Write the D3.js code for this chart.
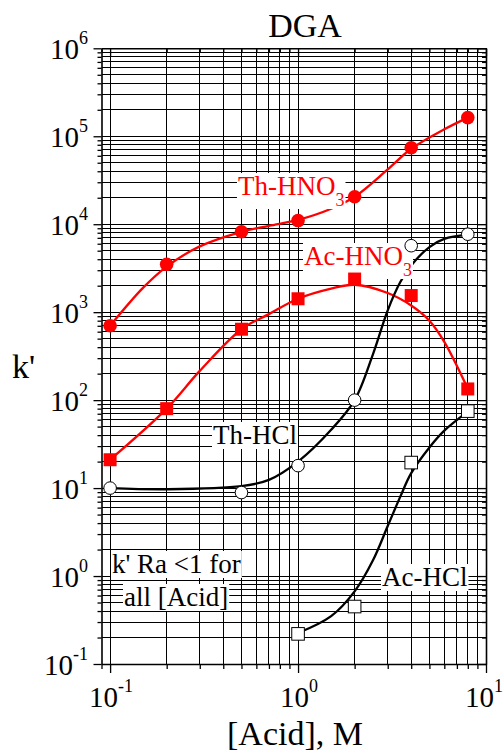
<!DOCTYPE html>
<html><head><meta charset="utf-8">
<script src="https://cdn.jsdelivr.net/npm/d3@7"></script>
<style>body{margin:0;background:#fff}svg{display:block}</style>
</head><body><svg id="c" width="504" height="754" font-family="'Liberation Serif', 'Times New Roman', Times, 'DejaVu Serif', serif"></svg>
<script>
// ---- data ----
const xAcid = [0.1, 0.2, 0.5, 1, 2, 4, 8];
const thHNO3 = [700, 3500, 8200, 11000, 20500, 74000, 163000];
const acHNO3 = [21, 80, 640, 1420, 2380, 1545, 134];
const xThHCl = [0.1, 0.5, 1, 2, 4, 8];
const thHCl = [10, 8.9, 18, 100, 5700, 7700];
const xAcHCl = [1, 2, 4, 8];
const acHCl = [0.22, 0.45, 19.5, 75];
// fitted curves
const thHNO3FitX = [0.1, 0.15, 0.2, 0.3, 0.5, 0.7, 1, 1.5, 2, 3, 4, 6, 8];
const thHNO3FitY = [700, 1900, 3300, 5600, 8200, 9600, 11200, 15000, 20500, 42000, 72000, 120000, 163000];
const acHNO3FitX = [0.1, 0.2, 0.3, 0.5, 0.7, 1, 1.5, 2, 3, 4, 5, 6, 8];
const acHNO3FitY = [21, 80, 215, 640, 950, 1420, 1850, 2050, 1650, 1190, 800, 460, 135];
const thHClFitX = [0.1, 0.2, 0.5, 0.7, 1, 1.5, 2, 2.5, 3, 3.5, 4, 5, 6, 8];
const thHClFitY = [10, 9.7, 10.5, 12.4, 20, 46, 100, 330, 1050, 2200, 3400, 5500, 6800, 7600];
const acHClFitX = [1, 1.5, 2, 2.5, 3, 3.5, 4, 5, 6, 8];
const acHClFitY = [0.225, 0.35, 0.67, 1.5, 3.7, 8, 14.8, 29, 45, 74];
const xTicks = [0.1, 1, 10];
const xTickExp = ["-1", "0", "1"];
const yTicks = [0.1, 1, 10, 100, 1000, 10000, 100000, 1000000];
const yTickExp = ["-1", "0", "1", "2", "3", "4", "5", "6"];

const svg = d3.select("#c");
const x = d3.scaleLog().domain([0.09, 10]).range([101.5, 486]);
const y = d3.scaleLog().domain([0.1, 1e6]).range([664, 48.3]);
const RED = "#ff0000";

// minor values
const xMinor = [];
[0.1, 1].forEach(d => { for (let i = 1; i <= 9; i++) xMinor.push(d * i); });
xMinor.push(10);
const yMinor = [];
for (let e = -1; e < 6; e++) { for (let i = 1; i <= 9; i++) yMinor.push(Math.pow(10, e) * i); }
yMinor.push(1e6);

const g = svg.append("g");
// grid
g.selectAll(".vg").data(xMinor).join("line")
  .attr("x1", d => x(d)).attr("x2", d => x(d)).attr("y1", y(0.1)).attr("y2", y(1e6))
  .attr("stroke", "#000").attr("stroke-width", 1).attr("shape-rendering", "crispEdges");
g.selectAll(".hg").data(yMinor).join("line")
  .attr("y1", d => y(d)).attr("y2", d => y(d)).attr("x1", x(0.09)).attr("x2", x(10))
  .attr("stroke", "#000").attr("stroke-width", 1).attr("shape-rendering", "crispEdges");

// axes ticks
const isMajor = v => Math.abs(Math.log10(v) - Math.round(Math.log10(v))) < 1e-9;
const yAxL = d3.axisLeft(y).tickValues(yMinor).tickFormat("").tickSizeOuter(0);
const gl = svg.append("g").attr("transform", `translate(${x(0.09)},0)`).call(yAxL);
gl.selectAll(".tick line").attr("x2", d => isMajor(d) ? -8 : -4).attr("stroke-width", 1.3);
gl.select(".domain").attr("stroke-width", 1.6);
const yAxR = d3.axisRight(y).tickValues(yMinor).tickFormat("").tickSizeOuter(0);
const gr = svg.append("g").attr("transform", `translate(${x(10)},0)`).call(yAxR);
gr.selectAll(".tick line").attr("x2", d => isMajor(d) ? -8 : -4).attr("stroke-width", 1.3);
gr.select(".domain").attr("stroke-width", 1.6);
const xVals = [0.09].concat(xMinor);
const xAxB = d3.axisBottom(x).tickValues(xVals).tickFormat("").tickSizeOuter(0);
const gb = svg.append("g").attr("transform", `translate(0,${y(0.1)})`).call(xAxB);
gb.selectAll(".tick line").attr("y2", d => isMajor(d) ? 9 : 5).attr("stroke-width", 1.3);
gb.select(".domain").attr("stroke-width", 1.6);
const xAxT = d3.axisTop(x).tickValues(xVals).tickFormat("").tickSizeOuter(0);
const gt = svg.append("g").attr("transform", `translate(0,${y(1e6)})`).call(xAxT);
gt.selectAll(".tick line").attr("y2", d => isMajor(d) ? 8 : 4).attr("stroke-width", 1.3);
gt.select(".domain").attr("stroke-width", 1.6);
svg.selectAll(".tick text").remove();

// tick labels
yTicks.forEach((v, i) => {
  const t = svg.append("text").attr("x", 88).attr("y", y(v) + 11)
    .attr("text-anchor", "end").attr("font-size", 29);
  t.append("tspan").text("10");
  t.append("tspan").attr("dy", -15).attr("font-size", 18).text(yTickExp[i]);
});
xTicks.forEach((v, i) => {
  const t = svg.append("text").attr("x", i === 2 ? x(v) - 2 : x(v) + 1).attr("y", 707)
    .attr("text-anchor", "middle").attr("font-size", 29);
  t.append("tspan").text("10");
  t.append("tspan").attr("dy", -15).attr("font-size", 18).text(xTickExp[i]);
});

// titles
svg.append("text").attr("x", 305).attr("y", 37).attr("text-anchor", "middle").attr("font-size", 34).text("DGA");
svg.append("text").attr("x", 12).attr("y", 378).attr("font-size", 34).text("k'");
svg.append("text").attr("x", 295).attr("y", 745).attr("text-anchor", "middle").attr("font-size", 34).text("[Acid], M");

// curves
const line = d3.line().x(d => x(d[0])).y(d => y(d[1])).curve(d3.curveCatmullRom.alpha(0.5));
const zip = (a, b) => a.map((v, i) => [v, b[i]]);
const curves = [
  [zip(thHNO3FitX, thHNO3FitY), RED],
  [zip(acHNO3FitX, acHNO3FitY), RED],
  [zip(thHClFitX, thHClFitY), "#000"],
  [zip(acHClFitX, acHClFitY), "#000"]
];
curves.forEach(([pts, col]) => {
  svg.append("path").attr("d", line(pts)).attr("fill", "none").attr("stroke", col).attr("stroke-width", 2.3);
});

// labels with white boxes
function label(parts, xx, yy, col) {
  const gg = svg.append("g");
  const rect = gg.append("rect").attr("fill", "#fff");
  const t = gg.append("text").attr("x", xx).attr("y", yy).attr("font-size", 27).attr("fill", col);
  parts.forEach(p => {
    const ts = t.append("tspan").text(p.t);
    if (p.sub) ts.attr("font-size", 18).attr("dy", 11);
  });
  const b = t.node().getBBox();
  rect.attr("x", b.x - 1).attr("y", b.y + 2).attr("width", b.width + 2).attr("height", b.height - 3);
}
label([{t: "Th-HNO"}, {t: "3", sub: true}], 238, 195, RED);
label([{t: "Ac-HNO"}, {t: "3", sub: true}], 304, 265, RED);
label([{t: "Th-HCl"}], 213, 444, "#000");
label([{t: "Ac-HCl"}], 382, 586, "#000");
label([{t: "k' Ra <1 for"}], 112, 573, "#000");
label([{t: "all [Acid]"}], 124, 606, "#000");

// markers
const sq = 13;
svg.selectAll(".m1").data(zip(xAcid, thHNO3)).join("circle")
  .attr("cx", d => x(d[0])).attr("cy", d => y(d[1])).attr("r", 6.8).attr("fill", RED);
svg.selectAll(".m2").data(zip(xAcid, acHNO3)).join("rect")
  .attr("x", d => x(d[0]) - sq / 2).attr("y", d => y(d[1]) - sq / 2).attr("width", sq).attr("height", sq).attr("fill", RED);
svg.selectAll(".m3").data(zip(xThHCl, thHCl)).join("circle")
  .attr("cx", d => x(d[0])).attr("cy", d => y(d[1])).attr("r", 6.3).attr("fill", "#fff").attr("stroke", "#000").attr("stroke-width", 1);
svg.selectAll(".m4").data(zip(xAcHCl, acHCl)).join("rect")
  .attr("x", d => x(d[0]) - 6.3).attr("y", d => y(d[1]) - 6.3).attr("width", 12.6).attr("height", 12.6)
  .attr("fill", "#fff").attr("stroke", "#000").attr("stroke-width", 1);
</script></body></html>
